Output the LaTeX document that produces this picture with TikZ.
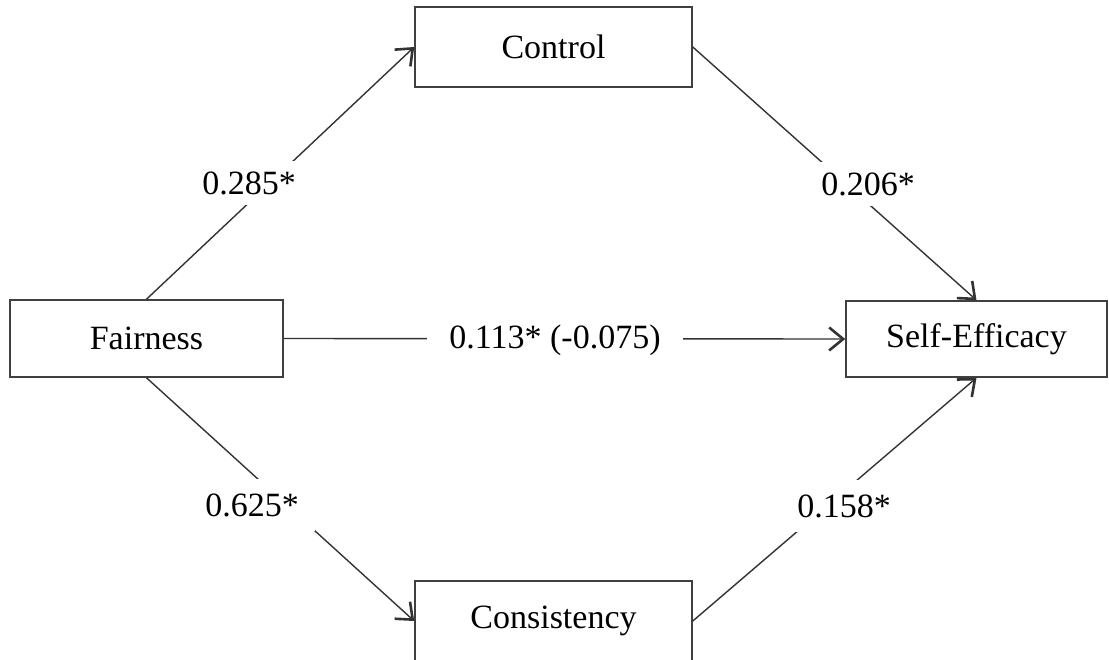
\documentclass[tikz,border=0pt]{standalone}
\usepackage{fontspec}
\setmainfont{Liberation Serif}
\usetikzlibrary{arrows.meta}
\tikzset{
  box/.style={draw=black!75, line width=1.6pt, fill=white, inner sep=0pt,
    font=\fontsize{34}{40}\selectfont},
  conn/.style={draw=black!80, line width=1.4pt,
    -{Straight Barb[length=14pt,width=23pt,line width=2.6pt]}},
  lbl/.style={fill=white, inner xsep=12pt, inner ysep=10pt,
    font=\fontsize{34}{40}\selectfont}
}
\begin{document}
\begin{tikzpicture}[x=1pt,y=-1pt]
\useasboundingbox (0,0) rectangle (1109,659);
\node[box, minimum width=277pt, minimum height=80pt] (C) at (553.5,47) {Control};
\node[box, minimum width=273pt, minimum height=77pt] (F) at (146.5,338.5) {Fairness};
\node[box, minimum width=261pt, minimum height=76pt] (S) at (976.5,339) {Self-Efficacy};
\node[box, minimum width=277pt, minimum height=80pt] (K) at (553.5,621) {Consistency};

\draw[conn] (F.north) -- (C.west);
\draw[conn] (C.east) -- (S.north);
\draw[conn] (F.east) -- (S.west);
\draw[conn] (F.south) -- (K.west);
\draw[conn] (K.east) -- (S.south);

\node[lbl] (l1) at (249,183) {0.285*};
\node[lbl] (l2) at (868,184) {0.206*};
\node[lbl, inner xsep=22pt] (l3) at (555,340) {0.113* (-0.075)};
\node[lbl, inner xsep=16pt, inner ysep=14pt] (l4) at (252,505) {0.625*};
\node[lbl, inner ysep=14pt] (l5) at (844,506) {0.158*};
\end{tikzpicture}
\end{document}
